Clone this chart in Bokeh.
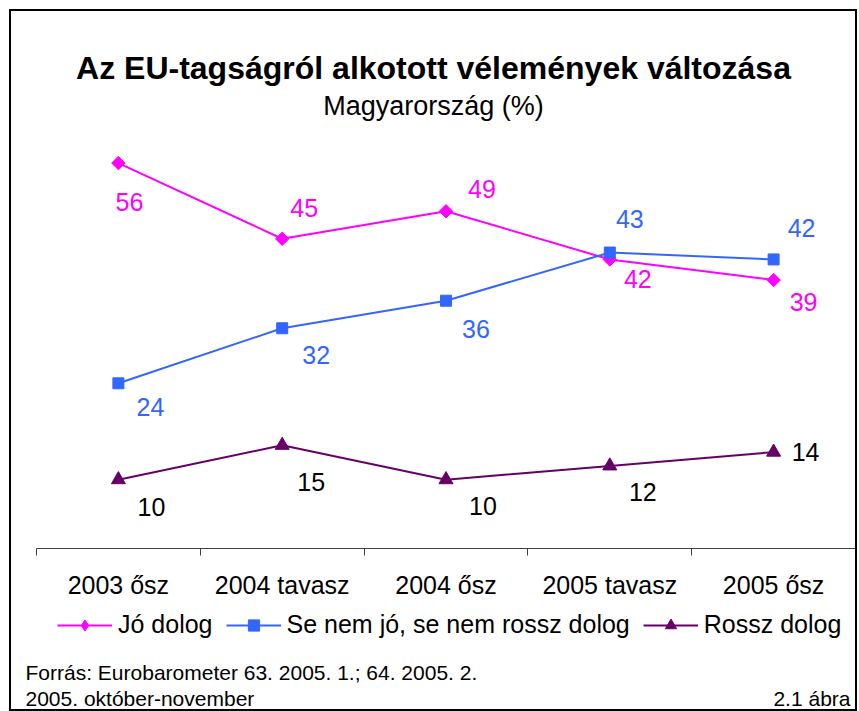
from bokeh.plotting import figure
from bokeh.layouts import column
from bokeh.models import (Range1d, LinearAxis, FixedTicker,
                          Legend, LegendItem, Title, Label, ColumnDataSource)
from bokeh.core.properties import value
from bokeh.embed import file_html
from bokeh.resources import INLINE
import math

# ---- data ----
categories = ["2003 ősz", "2004 tavasz", "2004 ősz", "2005 tavasz", "2005 ősz"]
jo_dolog = [56, 45, 49, 42, 39]
se_nem = [24, 32, 36, 43, 42]
rossz_dolog = [10, 15, 10, 12, 14]
series_names = ["Jó dolog", "Se nem jó, se nem rossz dolog", "Rossz dolog"]
title_text = "Az EU-tagságról alkotott vélemények változása"
subtitle_text = "Magyarország (%)"
source_line1 = "Forrás: Eurobarometer 63. 2005. 1.; 64. 2005. 2."
source_line2 = "2005. október-november"
figure_no = "2.1 ábra"

# ---- label placement (pixel offsets from the marker) ----
jo_dx = [11, 22, 36, 28, 30]
jo_dy = [39, -31, -22, 20, 22]
se_dx = [32, 34, 30, 20, 28]
se_dy = [24, 27, 28, -34, -31]
ro_dx = [33, 29, 37, 33, 32]
ro_dy = [27, 37, 26, 26, 0]

FONT = "Liberation Sans"
MAGENTA = "#FF00FF"
BLUE = "#3366FF"
PURPLE = "#660066"

n = len(categories)
xpos = list(range(n))  # category slot index

W = 844          # canvas width
LEFT_GAP = 25    # blank space left of the category axis
slot_px = (W - LEFT_GAP) / n

# ---------------- main chart ----------------
p = figure(width=W, height=593,
           x_range=Range1d(-0.5 - LEFT_GAP / slot_px, n - 0.5),
           y_range=Range1d(0, 62.04),
           output_backend="svg", toolbar_location=None,
           x_axis_location=None, y_axis_location=None,
           min_border_left=0, min_border_right=0,
           min_border_top=110, min_border_bottom=56)
p.grid.grid_line_color = None
p.outline_line_color = None
p.background_fill_color = "white"
p.border_fill_color = "white"

# axis with ticks between categories
edges = [i - 0.5 for i in range(n + 1)]
edge_axis = LinearAxis(ticker=FixedTicker(ticks=edges, minor_ticks=[]),
                       bounds=(edges[0], edges[-1]),
                       major_label_overrides={e: "" for e in edges},
                       major_label_text_font_size="1px", major_label_standoff=0,
                       axis_line_color="#404040", axis_line_width=1,
                       major_tick_line_color="#404040", major_tick_in=0, major_tick_out=7,
                       minor_tick_line_color=None)
p.add_layout(edge_axis, "below")

# axis with category names centred in the slots
cat_axis = LinearAxis(ticker=FixedTicker(ticks=xpos, minor_ticks=[]),
                      major_label_overrides={i: c for i, c in enumerate(categories)},
                      axis_line_color=None, major_tick_line_color=None,
                      minor_tick_line_color=None,
                      major_label_text_font=FONT, major_label_text_font_size="25px",
                      major_label_text_color="black", major_label_standoff=9)
p.add_layout(cat_axis, "below")

def series(vals, color, marker, size, angle, dx, dy, label_color):
    p.line(xpos, vals, line_color=color, line_width=2)
    p.scatter(xpos, vals, marker=marker, size=size, angle=angle,
              fill_color=color, line_color=color)
    src = ColumnDataSource(dict(x=xpos, y=vals, t=[str(v) for v in vals], dx=dx, dy=dy))
    p.text(x="x", y="y", text="t", x_offset="dx", y_offset="dy", source=src,
           text_font=value(FONT), text_font_size="25px", text_color=label_color,
           text_align="center", text_baseline="middle")

styles = [
    dict(color=MAGENTA, marker="square", size=9.5, angle=math.pi / 4),
    dict(color=BLUE, marker="square", size=11, angle=0),
    dict(color=PURPLE, marker="triangle", size=14, angle=0),
]
legend_markers = [dict(marker="diamond", size=15), dict(marker="square", size=11),
                  dict(marker="triangle", size=14)]
all_series = [jo_dolog, se_nem, rossz_dolog]
series(jo_dolog, **styles[0], dx=jo_dx, dy=jo_dy, label_color=MAGENTA)
series(se_nem, **styles[1], dx=se_dx, dy=se_dy, label_color=BLUE)
series(rossz_dolog, **styles[2], dx=ro_dx, dy=ro_dy, label_color="black")

p.add_layout(Title(text=subtitle_text, align="center", text_font=FONT, text_color="black",
                   text_font_size="27px", text_font_style="normal", standoff=2,
                   offset=1), "above")
p.add_layout(Title(text=title_text, align="center", text_font=FONT, text_color="black",
                   text_font_size="32px", text_font_style="bold", standoff=4,
                   offset=6), "above")

# ---------------- legend and source notes ----------------
q = figure(width=W, height=105, x_range=Range1d(0, 1), y_range=Range1d(0, 1),
           output_backend="svg", toolbar_location=None,
           x_axis_location=None, y_axis_location=None, min_border=0)
q.grid.grid_line_color = None
q.outline_line_color = None

items = []
for name, st, lm, vals in zip(series_names, styles, legend_markers, all_series):
    # same series, drawn outside this strip's visible range: used only as legend keys
    lr = q.line(xpos, vals, line_color=st["color"], line_width=2)
    sr = q.scatter(xpos, vals, marker=lm["marker"], size=lm["size"],
                   fill_color=st["color"], line_color=st["color"])
    items.append(LegendItem(label=name, renderers=[lr, sr]))

legend = Legend(items=items, orientation="horizontal", location=(46, 70),
                glyph_width=55, glyph_height=28, label_height=28,
                label_standoff=6, spacing=13, padding=0, margin=0,
                label_text_font=FONT, label_text_font_size="25px", label_text_color="black",
                border_line_color=None, background_fill_alpha=0)
q.add_layout(legend)

for txt, x, y, align in [(source_line1, 14, 37, "left"),
                         (source_line2, 14, 11, "left"),
                         (figure_no, 839, 11, "right")]:
    q.add_layout(Label(x=x, y=y, x_units="screen", y_units="screen", text=txt,
                       text_font=FONT, text_font_size="21px", text_align=align,
                       text_baseline="middle", text_color="black"))

layout = column(p, q, styles={"border": "2px solid black", "margin": "9px 0 0 9px"})

open("out.html", "w").write(file_html(layout, INLINE))
